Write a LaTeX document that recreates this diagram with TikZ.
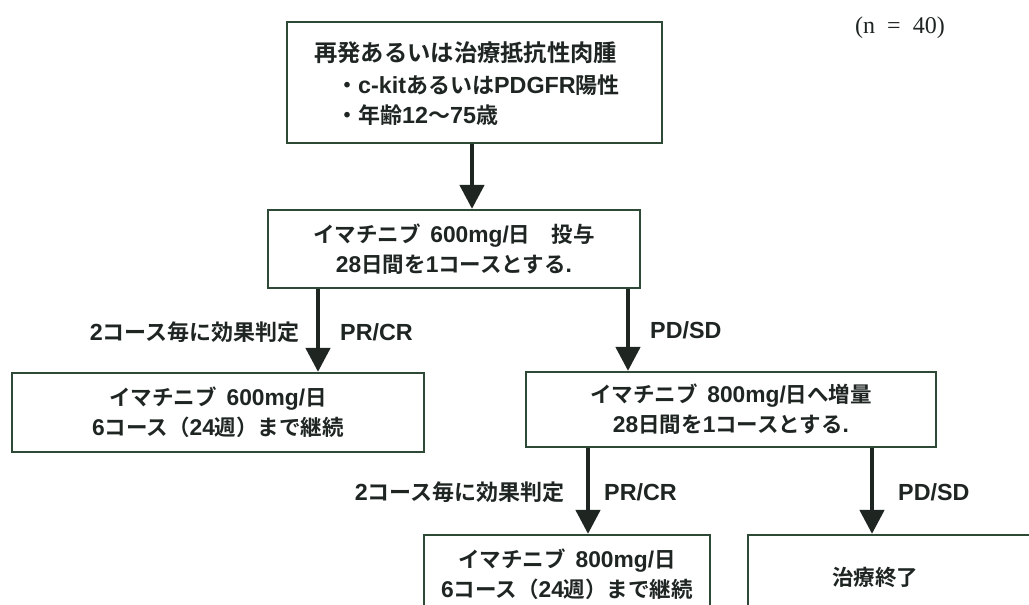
\documentclass[tikz,border=0pt]{standalone}
\usepackage{fontspec}
\setmainfont{Noto Sans CJK JP}[BoldFont={Noto Sans CJK JP Bold}]
\newfontfamily\serifn{Liberation Serif}
\newfontfamily\latf{Liberation Sans}[Scale=1.06]
\newcommand\La[1]{{\latf\bfseries #1}}
\usetikzlibrary{arrows.meta}
\definecolor{boxgreen}{HTML}{2E4A36}
\definecolor{txt}{HTML}{1F2622}
\tikzset{
  box/.style={draw=boxgreen, line width=2.2pt, fill=white, inner sep=0pt},
  arr/.style={draw=txt, line width=4.5pt, -{Triangle[width=24pt,length=24pt]}},
  lbl/.style={text=txt, font=\fontsize{22}{24}\selectfont\bfseries, inner sep=0pt},
  btxt/.style={text=txt, font=\fontsize{21.5}{30}\selectfont\bfseries, inner sep=0pt, align=center},
}
\begin{document}
\begin{tikzpicture}[x=1pt,y=-1pt]
\useasboundingbox (0,0) rectangle (1029,605);
\clip (0,0) rectangle (1029,605);
\fill[white] (0,0) rectangle (1029,605);
% boxes
\node[box, minimum width=375pt, minimum height=121pt] (box1) at (474.5,82.5) {};
\node[box, minimum width=372pt, minimum height=78pt] (box2) at (454,249) {};
\node[box, minimum width=412pt, minimum height=79pt] (box3) at (218,412.5) {};
\node[box, minimum width=410pt, minimum height=75pt] (box4) at (731,409.5) {};
\node[box, minimum width=286pt, minimum height=110pt] (box5) at (567,590) {};
\node[box, minimum width=300pt, minimum height=110pt] (box6) at (898,590) {};
% box texts
\node[lbl, anchor=west, font=\fontsize{23.3}{24}\selectfont\bfseries] (t1a) at (314,53) {再発あるいは治療抵抗性肉腫};
\node[lbl, anchor=west, font=\fontsize{22}{24}\selectfont\bfseries] (t1b) at (336,85) {・\La{c-kit}あるいは\La{PDGFR}陽性};
\node[lbl, anchor=west, font=\fontsize{22}{24}\selectfont\bfseries] (t1c) at (336,115) {・年齢\La{12}〜\La{75}歳};
\node[btxt] (t2) at (box2) {イマチニブ\ \ \La{600mg/}日\quad 投与\\\La{28}日間を\La{1}コースとする\La{.}};
\node[btxt] (t3) at (box3) {イマチニブ\ \ \La{600mg/}日\\\La{6}コース（\La{24}週）まで継続};
\node[btxt] (t4) at (box4) {イマチニブ\ \ \La{800mg/}日へ増量\\\La{28}日間を\La{1}コースとする\La{.}};
\node[btxt] (t5) at (567,574) {イマチニブ\ \ \La{800mg/}日\\\La{6}コース（\La{24}週）まで継続};
\node[btxt] (t6) at (875,577) {治療終了};
% n
\node[text=txt, font=\serifn\fontsize{24}{26}\selectfont, inner sep=0pt] (n) at (900,28) {(n\ \ =\ \ 40)};
% arrows
\coordinate (xa1) at (472,0);
\coordinate (xa2) at (318,0);
\coordinate (xa3) at (628,0);
\coordinate (xa4) at (588,0);
\coordinate (xa5) at (872,0);
\draw[arr] (box1.south -| xa1) -- (box2.north -| xa1);
\draw[arr] (box2.south -| xa2) -- (box3.north -| xa2);
\draw[arr] (box2.south -| xa3) -- (box4.north -| xa3);
\draw[arr] (box4.south -| xa4) -- (box5.north -| xa4);
\draw[arr] (box4.south -| xa5) -- (box6.north -| xa5);
% labels
\node[lbl, anchor=east] (l1) at (300,332) {\La{2}コース毎に効果判定};
\node[lbl, anchor=west] (l2) at (340,332) {\La{PR/CR}};
\node[lbl, anchor=west] (l3) at (650,330) {\La{PD/SD}};
\node[lbl, anchor=east] (l4) at (565,492) {\La{2}コース毎に効果判定};
\node[lbl, anchor=west] (l5) at (604,492) {\La{PR/CR}};
\node[lbl, anchor=west] (l6) at (898,492) {\La{PD/SD}};
\end{tikzpicture}
\end{document}
